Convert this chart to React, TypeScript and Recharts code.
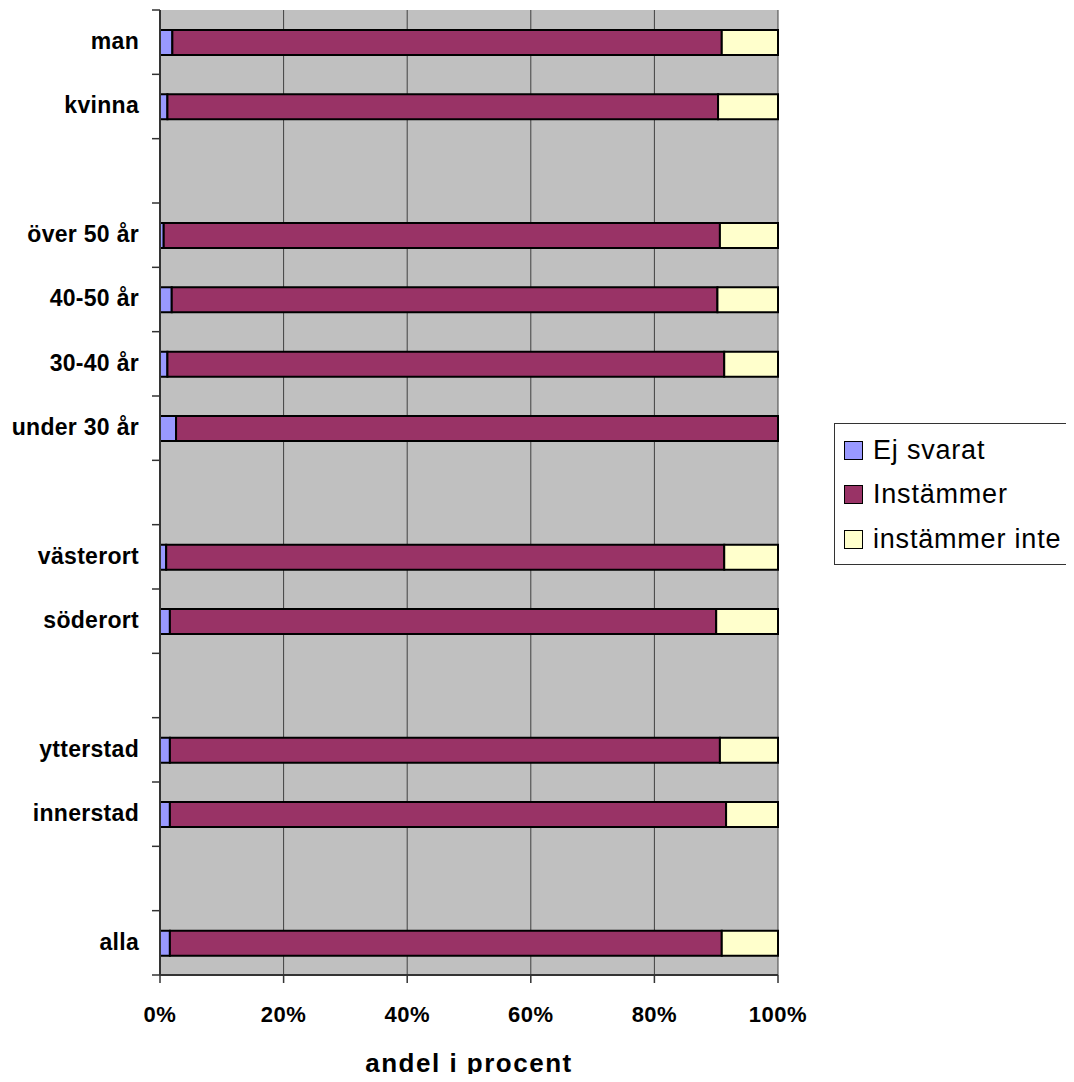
import {
  BarChart,
  Bar,
  XAxis,
  YAxis,
  CartesianGrid,
  Legend,
} from "recharts";

// rows from top to bottom, blank strings are the empty spacer rows
const categories = [
  "man",
  "kvinna",
  " ",
  "över 50 år",
  "40-50 år",
  "30-40 år",
  "under 30 år",
  "  ",
  "västerort",
  "söderort",
  "   ",
  "ytterstad",
  "innerstad",
  "    ",
  "alla",
];

const ejSvarat = [2.0, 1.2, 0, 0.6, 1.9, 1.2, 2.6, 0, 1.0, 1.6, 0, 1.6, 1.6, 0, 1.6];
const instammer = [88.9, 89.1, 0, 90.0, 88.3, 90.1, 97.4, 0, 90.3, 88.4, 0, 89.0, 90.0, 0, 89.3];
const instammerInte = [9.1, 9.7, 0, 9.4, 9.8, 8.7, 0, 0, 8.7, 10.0, 0, 9.4, 8.4, 0, 9.1];

const xTicks = [0, 20, 40, 60, 80, 100];

const series = [
  { key: "ej", name: "Ej svarat", color: "#9999FF" },
  { key: "ins", name: "Instämmer", color: "#993366" },
  { key: "inte", name: "instämmer inte", color: "#FFFFCC" },
];

const data = categories.map((name, i) => ({
  name,
  ej: ejSvarat[i],
  ins: instammer[i],
  inte: instammerInte[i],
}));

const FONT = '"Liberation Sans", Arial, sans-serif';
const WIDTH = 1066;
const HEIGHT = 1074;
const PLOT_LEFT = 152;
const PLOT_RIGHT = 770;
const PLOT_TOP = 2;
const PLOT_BOTTOM = 967;
const BAND = (PLOT_BOTTOM - PLOT_TOP) / categories.length;
const LEGEND_WIDTH = 238;

const CategoryTick = (props: any) => {
  const { y, payload } = props;
  const index = props.index ?? payload.index;
  const half = BAND / 2;
  return (
    <g>
      <line x1={PLOT_LEFT - 8} x2={PLOT_LEFT} y1={y - half} y2={y - half} stroke="#333" strokeWidth={1.5} />
      {index === categories.length - 1 && (
        <line x1={PLOT_LEFT - 8} x2={PLOT_LEFT} y1={y + half} y2={y + half} stroke="#333" strokeWidth={1.5} />
      )}
      <text
        x={PLOT_LEFT - 21}
        y={y}
        dy="0.3em"
        textAnchor="end"
        fontFamily={FONT}
        fontSize={23}
        fontWeight="bold"
        letterSpacing={0.3}
        fill="#000"
      >
        {String(payload.value).trim()}
      </text>
    </g>
  );
};

const renderLegend = () => (
  <div
    style={{
      boxSizing: "border-box",
      width: LEGEND_WIDTH,
      border: "1px solid #333",
      background: "#fff",
      padding: "4px 0 2px 9px",
      fontFamily: FONT,
      fontSize: 27,
      letterSpacing: 0.8,
      color: "#000",
    }}
  >
    {series.map((s) => (
      <div key={s.key} style={{ display: "flex", alignItems: "center", height: 44.5 }}>
        <span
          style={{
            boxSizing: "border-box",
            width: 19,
            height: 19,
            background: s.color,
            border: "1.5px solid #000",
            marginRight: 10,
            flex: "none",
          }}
        />
        <span style={{ whiteSpace: "nowrap" }}>{s.name}</span>
      </div>
    ))}
  </div>
);

export default function App() {
  return (
    // negative bottom margin cancels the body margin so the page does not scroll
    <div style={{ width: WIDTH, height: HEIGHT, marginBottom: -8 }}>
      <BarChart
        width={WIDTH}
        height={HEIGHT}
        data={data}
        layout="vertical"
        barSize={25}
        margin={{ top: PLOT_TOP, right: WIDTH - PLOT_RIGHT, bottom: 0, left: 0 }}
      >
        <CartesianGrid horizontal={false} stroke="#404040" fill="#C0C0C0" />
        <XAxis
          type="number"
          domain={[0, 100]}
          ticks={xTicks}
          tickFormatter={(v) => `${v}%`}
          height={HEIGHT - PLOT_BOTTOM}
          tickSize={8}
          tickMargin={23}
          axisLine={{ stroke: "#333", strokeWidth: 2 }}
          tickLine={{ stroke: "#333", strokeWidth: 1.5 }}
          tick={{ fontFamily: FONT, fontSize: 22, fontWeight: "bold", fill: "#000", letterSpacing: 0.5 }}
          label={{
            value: "andel i procent",
            position: "insideBottom",
            offset: 10,
            style: {
              fontFamily: FONT,
              fontSize: 26,
              fontWeight: "bold",
              fill: "#000",
              letterSpacing: 1.5,
            },
          }}
        />
        <XAxis
          xAxisId="top"
          orientation="top"
          type="number"
          domain={[0, 100]}
          height={0}
          tick={false}
          tickLine={false}
          axisLine={{ stroke: "#808080", strokeWidth: 2 }}
        />
        <YAxis
          type="category"
          dataKey="name"
          width={PLOT_LEFT}
          interval={0}
          tickLine={false}
          axisLine={{ stroke: "#333", strokeWidth: 2 }}
          tick={<CategoryTick />}
        />
        <YAxis
          yAxisId="right"
          orientation="right"
          type="category"
          dataKey="name"
          width={0}
          tick={false}
          tickLine={false}
          axisLine={{ stroke: "#808080", strokeWidth: 2 }}
        />
        <Legend
          layout="vertical"
          align="center"
          verticalAlign="middle"
          width={LEGEND_WIDTH}
          wrapperStyle={{ left: 826, top: 415, width: LEGEND_WIDTH }}
          content={renderLegend}
        />
        {series.map((s) => (
          <Bar
            key={s.key}
            dataKey={s.key}
            name={s.name}
            stackId="a"
            fill={s.color}
            stroke="#000"
            strokeWidth={2}
            isAnimationActive={false}
          />
        ))}
      </BarChart>
    </div>
  );
}
